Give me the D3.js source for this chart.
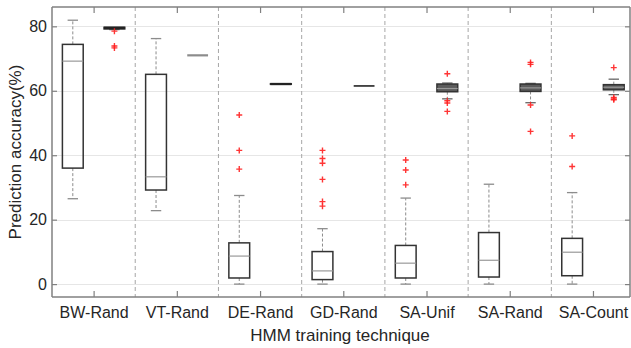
<!DOCTYPE html>
<html>
<head>
<meta charset="utf-8">
<script src="https://cdn.jsdelivr.net/npm/d3@7"></script>
<style>
  html, body { margin: 0; padding: 0; background: #fff; }
  svg { display: block; font-family: "Liberation Sans", Arial, sans-serif; }
</style>
</head>
<body>
<svg id="chart" width="631" height="348"></svg>
<script>
// Training techniques along the x axis
const techniques = ["BW-Rand", "VT-Rand", "DE-Rand", "GD-Rand", "SA-Unif", "SA-Rand", "SA-Count"];
const yTicks = [0, 20, 40, 60, 80];

// First box per technique (wide spread)
const lowA  = [26.5, 22.8, 0.0, 0.0, 0.0, 0.0, 0.0];
const q1A   = [36.0, 29.2, 1.9, 1.4, 1.9, 2.2, 2.6];
const medA  = [69.2, 33.3, 8.7, 4.1, 6.5, 7.4, 9.9];
const q3A   = [74.4, 65.1, 12.8, 10.1, 12.0, 16.0, 14.2];
const highA = [81.9, 76.2, 27.5, 17.2, 26.7, 31.0, 28.4];
const outA  = [[], [], [52.5, 41.5, 35.7], [41.5, 39.0, 37.5, 32.5, 25.6, 24.2],
               [38.5, 35.4, 30.8], [], [46.0, 36.5]];

// Second box per technique (narrow spread)
const lowB  = [79.0, 71.0, 62.0, 61.5, 57.5, 56.3, 58.8];
const q1B   = [79.2, 71.0, 62.0, 61.5, 59.7, 59.8, 60.3];
const medB  = [79.5, 71.0, 62.1, 61.5, 60.7, 60.9, 61.1];
const q3B   = [79.7, 71.0, 62.2, 61.5, 62.1, 62.1, 61.9];
const highB = [79.8, 71.0, 62.2, 61.5, 62.4, 62.3, 63.6];
const outB  = [[78.5, 73.9, 73.3], [], [], [], [65.3, 56.9, 56.2, 53.6],
               [68.8, 68.2, 55.6, 47.4], [67.2, 57.9, 57.5, 57.2]];

const svg = d3.select("#chart");
const plotL = 52, plotR = 630, plotT = 7, plotB = 297;

const x = d3.scaleLinear().domain([0.5, 7.445]).range([plotL, plotR]);
const y = d3.scaleLinear().domain([-4, 86]).range([plotB, plotT]);
const boxW = x(1.25) - x(1);

const textColor = "#262626";
const axisColor = "#808080";

// horizontal grid
svg.append("g").selectAll("line").data(yTicks).join("line")
  .attr("x1", plotL).attr("x2", plotR)
  .attr("y1", d => Math.round(y(d)) + 0.5).attr("y2", d => Math.round(y(d)) + 0.5)
  .attr("stroke", "#e6e6e6").attr("stroke-width", 1.2);

// dashed group separators
svg.append("g").selectAll("line").data(d3.range(1, techniques.length)).join("line")
  .attr("x1", i => x(i + 0.5)).attr("x2", i => x(i + 0.5))
  .attr("y1", plotT).attr("y2", plotB)
  .attr("stroke", "#a6a6a6").attr("stroke-width", 1)
  .attr("stroke-dasharray", "4,3");

// axes
const xAxis = d3.axisBottom(x).tickValues(d3.range(1, 8))
  .tickFormat(i => techniques[i - 1]).tickSizeInner(-6).tickSizeOuter(0).tickPadding(10);
const gx = svg.append("g").attr("transform", `translate(0,${plotB})`).call(xAxis);
const xTop = d3.axisTop(x).tickValues(d3.range(1, 8)).tickFormat("")
  .tickSizeInner(-6).tickSizeOuter(0);
const gxt = svg.append("g").attr("transform", `translate(0,${plotT})`).call(xTop);
const yAxis = d3.axisLeft(y).tickValues(yTicks).tickSizeInner(-5).tickSizeOuter(0).tickPadding(5);
const gy = svg.append("g").attr("transform", `translate(${plotL},0)`).call(yAxis);
const yRight = d3.axisRight(y).tickValues(yTicks).tickFormat("").tickSizeInner(-5).tickSizeOuter(0);
const gyr = svg.append("g").attr("transform", `translate(${plotR},0)`).call(yRight);

[gx, gxt, gy, gyr].forEach(g => {
  g.select(".domain").attr("stroke", axisColor).attr("stroke-width", 1.5);
  g.selectAll(".tick line").attr("stroke", axisColor).attr("stroke-width", 1.2);
  g.selectAll(".tick text").attr("fill", textColor).style("font-size", "16px")
    .style("font-family", "'Liberation Sans', Arial, sans-serif");
});
// full domain lines so the frame closes
gx.select(".domain").attr("d", `M${plotL},0H${plotR}`);
gxt.select(".domain").attr("d", `M${plotL},0H${plotR}`);
gy.select(".domain").attr("d", `M0,${plotT}V${plotB}`);
gyr.select(".domain").attr("d", `M0,${plotT}V${plotB}`);

// axis titles
svg.append("text")
  .attr("x", (plotL + plotR) / 2 - 1).attr("y", 341)
  .attr("text-anchor", "middle").attr("fill", textColor)
  .style("font-size", "17px").text("HMM training technique");
svg.append("text")
  .attr("transform", `translate(21,${(plotT + plotB) / 2}) rotate(-90)`)
  .attr("text-anchor", "middle").attr("fill", textColor)
  .style("font-size", "17px").text("Prediction accuracy(%)");

// box plot drawing
function drawBoxes(offset, low, q1, med, q3, high, outs, opts) {
  const g = svg.append("g");
  techniques.forEach((t, i) => {
    const cx = x(i + 1 + offset);
    const bx = cx - boxW / 2;
    const capW = boxW / 2;
    // whiskers with caps
    [[q3[i], high[i]], [q1[i], low[i]]].forEach(([a, b]) => {
      if (Math.abs(y(a) - y(b)) > 0.5) {
        g.append("line").attr("x1", cx).attr("x2", cx)
          .attr("y1", y(a)).attr("y2", y(b))
          .attr("stroke", "#8c8c8c").attr("stroke-width", 1)
          .attr("stroke-dasharray", "3,2");
        g.append("line").attr("x1", cx - capW / 2).attr("x2", cx + capW / 2)
          .attr("y1", y(b)).attr("y2", y(b))
          .attr("stroke", opts.capColor).attr("stroke-width", 1.3);
      }
    });
    // box
    const h = Math.max(y(q1[i]) - y(q3[i]), 0);
    g.append("rect").attr("x", bx).attr("y", y(q3[i]))
      .attr("width", boxW).attr("height", h)
      .attr("fill", h > 0 ? opts.fill : "none")
      .attr("stroke", h > 0 ? "#333" : "none").attr("stroke-width", 1.5);
    // median
    g.append("line").attr("x1", bx).attr("x2", bx + boxW)
      .attr("y1", y(med[i])).attr("y2", y(med[i]))
      .attr("stroke", opts.medColor[i]).attr("stroke-width", opts.medWidth[i]);
    // outliers
    outs[i].forEach(v => {
      const py = y(v), s = 3;
      g.append("path")
        .attr("d", `M${cx - s},${py}H${cx + s}M${cx},${py - s}V${py + s}`)
        .attr("stroke", "#ff2020").attr("stroke-width", 1.4).attr("opacity", 0.9);
    });
  });
}

drawBoxes(-0.25, lowA, q1A, medA, q3A, highA, outA, {
  fill: "none", capColor: "#8c8c8c",
  medColor: techniques.map(() => "#999"), medWidth: techniques.map(() => 1.2)
});
drawBoxes(0.25, lowB, q1B, medB, q3B, highB, outB, {
  fill: "#5c5c5c", capColor: "#666",
  medColor: ["#222", "#8c8c8c", "#222", "#222", "#999", "#999", "#999"],
  medWidth: [2.5, 2.2, 2.2, 1.6, 1.2, 1.2, 1.2]
});
</script>
</body>
</html>
